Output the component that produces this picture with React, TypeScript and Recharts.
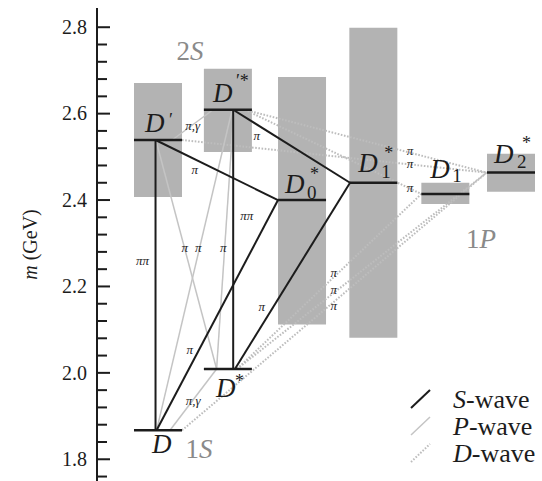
import React from 'react';
import { ComposedChart, XAxis, YAxis, ReferenceArea, ReferenceLine, Scatter, Legend } from 'recharts';

// ---------------- data ----------------
const STATE_IDS = ['D', 'Dst', 'Dp', 'Dpst', 'D0st', 'D1st', 'D1', 'D2st'];
const STATE_BASE = ['D', 'D', 'D', 'D', 'D', 'D', 'D', 'D'];
const STATE_SUB = ['', '', '', '', '0', '1', '1', '2'];
const STATE_SUP = ['', '*', '\u2032', '\u2032*', '*', '*', '', '*'];
const STATE_COLUMN = [0, 1, 0, 1, 2, 3, 4, 5];
const STATE_MASS = [1.867, 2.009, 2.539, 2.609, 2.4, 2.44, 2.414, 2.4635];
const STATE_MASS_LOW = [null, null, 2.407, 2.511, 2.112, 2.081, 2.391, 2.419];
const STATE_MASS_HIGH = [null, null, 2.671, 2.704, 2.685, 2.799, 2.44, 2.507];

const S_WAVE = [['Dp', 'D'], ['Dp', 'D0st'], ['Dpst', 'Dst'], ['Dpst', 'D1st'], ['D0st', 'D'], ['D1st', 'Dst']];
const P_WAVE = [['Dpst', 'Dp'], ['Dp', 'Dst'], ['Dpst', 'D'], ['Dpst', 'Dst'], ['Dst', 'D']];
const D_WAVE = [['Dpst', 'D2st'], ['Dpst', 'D1'], ['Dp', 'D2st'], ['Dst', 'D1'], ['Dst', 'D2st'], ['D', 'D2st']];

const DECAY_TEXT = ['π,γ', 'π', 'π', 'ππ', 'ππ', 'π', 'π', 'π', 'π', 'π,γ', 'π', 'π', 'π', 'π', 'π', 'π', 'π'];
const DECAY_X = [0.49, 1.4, 0.52, 1.256, -0.22, 0.38, 0.57, 0.925, 0.45, 0.5, 1.47, 2.49, 2.49, 2.49, 3.57, 3.57, 3.57];
const DECAY_Y = [2.572, 2.547, 2.47, 2.362, 2.259, 2.289, 2.289, 2.289, 2.053, 1.934, 2.153, 2.231, 2.192, 2.155, 2.513, 2.484, 2.428];

const MULTIPLET_NUM = ['2', '1', '1'];
const MULTIPLET_L = ['S', 'S', 'P'];
const MULTIPLET_X = [0.453, 0.58, 4.575];
const MULTIPLET_Y = [2.745, 1.824, 2.31];

const Y_MAJOR_TICKS = [1.8, 2.0, 2.2, 2.4, 2.6, 2.8];
const Y_MINOR_TICKS = [1.76, 1.84, 1.88, 1.92, 1.96, 2.04, 2.08, 2.12, 2.16, 2.24, 2.28, 2.32, 2.36, 2.44, 2.48, 2.52, 2.56, 2.64, 2.68, 2.72, 2.76];

const LEGEND_WAVES = ['S', 'P', 'D'];

// ---------------- layout / style ----------------
const FONT = "'Liberation Serif', 'DejaVu Serif', serif";
const INK = '#1c1c1c';
const BOX = '#b3b3b3';
const P_COLOR = '#c4c4c4';
const D_COLOR = '#bdbdbd';
const GROUP_COLOR = '#8a8a8a';

const X_DOMAIN = [-0.864, 5.439];
const Y_DOMAIN = [1.7497, 2.8445];
const COLUMN_X = [0, 0.99, 2.04, 3.05, 4.07, 5.0];
const HALF = 0.34;

const S_ANCHOR = [[-0.035, -0.035], [-0.035, -0.34], [0.075, 0.075], [0.075, -0.33], [-0.34, -0.02], [-0.33, 0.1]];
const P_ANCHOR = [[-0.21, 0.2], [-0.03, -0.16], [0.06, -0.02], [0.085, -0.16], [-0.16, 0.17]];
const D_ANCHOR = [[0.24, -0.345], [0.24, -0.34], [0.34, -0.345], [0.13, -0.34], [0.13, -0.345], [0.34, -0.345]];

// label offsets in px relative to the level centre
const LABEL_OFFSET = [[-6, 23], [-12, 28], [-13, -8], [-15, -8], [-17, -7], [-15, -11], [-15, -16], [-17, -10]];
const SUB_OFFSET = [null, null, null, null, [22, 6], [23, 6], [22, 4], [23, 5]];
const SUP_OFFSET = [null, [19, -9.5], [24, -6], [23, -14.5], [25, -13], [26, -13], null, [28, -13.5]];

const serif = (size: number, italic = false) => ({
  fontFamily: FONT,
  fontSize: size,
  fontStyle: italic ? 'italic' : 'normal',
});

const stateIndex = (id: string) => STATE_IDS.indexOf(id);
const stateX = (i: number) => COLUMN_X[STATE_COLUMN[i]];

function segmentsFor(list: string[][], anchors: number[][]) {
  return list.map(([a, b], k) => {
    const i = stateIndex(a);
    const j = stateIndex(b);
    return [
      { x: stateX(i) + anchors[k][0], y: STATE_MASS[i] },
      { x: stateX(j) + anchors[k][1], y: STATE_MASS[j] },
    ];
  });
}

const sSegs = segmentsFor(S_WAVE, S_ANCHOR);
const pSegs = segmentsFor(P_WAVE, P_ANCHOR);
const dSegs = segmentsFor(D_WAVE, D_ANCHOR);

const stateData = STATE_IDS.map((id, i) => ({ x: stateX(i), y: STATE_MASS[i], i }));
const decayData = DECAY_TEXT.map((t, i) => ({ x: DECAY_X[i], y: DECAY_Y[i], t }));
const multipletData = MULTIPLET_NUM.map((n, i) => ({ x: MULTIPLET_X[i], y: MULTIPLET_Y[i], n, l: MULTIPLET_L[i] }));

const YTick = (props: any) => {
  const { x, y, payload } = props;
  const v = payload.value;
  const major = Y_MAJOR_TICKS.some((t) => Math.abs(t - v) < 1e-6);
  const ax = x + 10;
  return (
    <g>
      <line x1={ax} x2={ax + (major ? 13 : 10)} y1={y} y2={y} stroke={INK} strokeWidth={2} />
      {major && (
        <text x={x} y={y} dy="0.34em" textAnchor="end" style={serif(20)} fill={INK}>
          {v.toFixed(1)}
        </text>
      )}
    </g>
  );
};

const StateLabel = (props: any) => {
  const { cx, cy, payload } = props;
  const i = payload.i;
  const x0 = cx + LABEL_OFFSET[i][0];
  const y0 = cy + LABEL_OFFSET[i][1];
  const sub = SUB_OFFSET[i];
  const sup = SUP_OFFSET[i];
  return (
    <g>
      <text x={x0} y={y0} style={serif(27, true)} fill={INK}>
        {STATE_BASE[i]}
      </text>
      {STATE_SUB[i] && sub && (
        <text x={x0 + sub[0]} y={y0 + sub[1]} style={serif(19)} fill={INK}>
          {STATE_SUB[i]}
        </text>
      )}
      {STATE_SUP[i] && sup && (
        <text x={x0 + sup[0]} y={y0 + sup[1]} style={serif(18)} fill={INK}>
          {STATE_SUP[i]}
        </text>
      )}
    </g>
  );
};

const DecayLabel = (props: any) => {
  const { cx, cy, payload } = props;
  return (
    <text x={cx} y={cy} dy="0.3em" textAnchor="middle" style={serif(13, true)} fill={INK}>
      {payload.t}
    </text>
  );
};

const MultipletLabel = (props: any) => {
  const { cx, cy, payload } = props;
  return (
    <text x={cx} y={cy} dy="0.35em" textAnchor="middle" style={serif(27)} fill={GROUP_COLOR}>
      {payload.n}
      <tspan style={{ fontStyle: 'italic' }}>{payload.l}</tspan>
    </text>
  );
};

const LegendBox = () => (
  <svg width={142} height={92} style={{ display: 'block' }}>
    {LEGEND_WAVES.map((w, k) => {
      const base = 28 + k * 27;
      const stroke = k === 0 ? INK : k === 1 ? P_COLOR : D_COLOR;
      return (
        <g key={w}>
          <line
            x1={11}
            y1={base}
            x2={30}
            y2={base - 18}
            stroke={stroke}
            strokeWidth={k === 0 ? 2 : k === 1 ? 1.5 : 2}
            strokeDasharray={k === 2 ? '1.6 1.6' : undefined}
          />
          <text x={53} y={base - 0.5} style={serif(26)} fill={INK}>
            <tspan style={{ fontStyle: 'italic' }}>{w}</tspan>-wave
          </text>
        </g>
      );
    })}
  </svg>
);

const YLabel = (props: any) => {
  const vb = props.viewBox || { x: 0, y: 8, width: 97, height: 473 };
  const cx = vb.x + 37;
  const cy = vb.y + vb.height / 2;
  return (
    <text x={cx} y={cy} transform={`rotate(-90 ${cx} ${cy})`} textAnchor="middle" style={serif(20)} fill={INK}>
      <tspan style={{ fontStyle: 'italic' }}>m</tspan> (GeV)
    </text>
  );
};

export default function App() {
  return (
    <div style={{ position: 'absolute', left: 0, top: 0, width: 542, height: 481, background: '#fff' }}>
      <ComposedChart width={542} height={481} margin={{ top: 8, right: 0, bottom: 0, left: 0 }}>
        <XAxis
          type="number"
          dataKey="x"
          domain={X_DOMAIN}
          allowDataOverflow
          orientation="top"
          height={0}
          tick={false}
          tickLine={false}
          axisLine={{ stroke: INK, strokeWidth: 2 }}
        />
        <YAxis
          type="number"
          dataKey="y"
          domain={Y_DOMAIN}
          allowDataOverflow
          ticks={[...Y_MAJOR_TICKS, ...Y_MINOR_TICKS]}
          interval={0}
          tickSize={0}
          tickMargin={10}
          tickLine={false}
          tick={<YTick />}
          width={97}
          axisLine={{ stroke: INK, strokeWidth: 2 }}
          label={{ content: <YLabel /> }}
        />
        {STATE_IDS.map((id, i) =>
          STATE_MASS_LOW[i] != null ? (
            <ReferenceArea
              key={'box' + id}
              x1={stateX(i) - HALF}
              x2={stateX(i) + HALF}
              y1={STATE_MASS_LOW[i] as number}
              y2={STATE_MASS_HIGH[i] as number}
              fill={BOX}
              fillOpacity={1}
              stroke="none"
              ifOverflow="visible"
            />
          ) : null
        )}
        {dSegs.map((seg, k) => (
          <ReferenceLine key={'d' + k} segment={seg} stroke={D_COLOR} strokeWidth={2} strokeDasharray="1.6 1.6" ifOverflow="visible" />
        ))}
        {pSegs.map((seg, k) => (
          <ReferenceLine key={'p' + k} segment={seg} stroke={P_COLOR} strokeWidth={1.5} ifOverflow="visible" />
        ))}
        {sSegs.map((seg, k) => (
          <ReferenceLine key={'s' + k} segment={seg} stroke={INK} strokeWidth={2} ifOverflow="visible" />
        ))}
        {STATE_IDS.map((id, i) => (
          <ReferenceLine
            key={'lvl' + id}
            segment={[
              { x: stateX(i) - HALF, y: STATE_MASS[i] },
              { x: stateX(i) + HALF, y: STATE_MASS[i] },
            ]}
            stroke={INK}
            strokeWidth={2.5}
            ifOverflow="visible"
          />
        ))}
        <Scatter data={stateData} shape={<StateLabel />} isAnimationActive={false} />
        <Scatter data={decayData} shape={<DecayLabel />} isAnimationActive={false} />
        <Scatter data={multipletData} shape={<MultipletLabel />} isAnimationActive={false} />
        <Legend
          layout="vertical"
          align="center"
          verticalAlign="middle"
          wrapperStyle={{ position: 'absolute', left: 400, top: 380, width: 142, height: 92 }}
          content={() => <LegendBox />}
        />
      </ComposedChart>
    </div>
  );
}
